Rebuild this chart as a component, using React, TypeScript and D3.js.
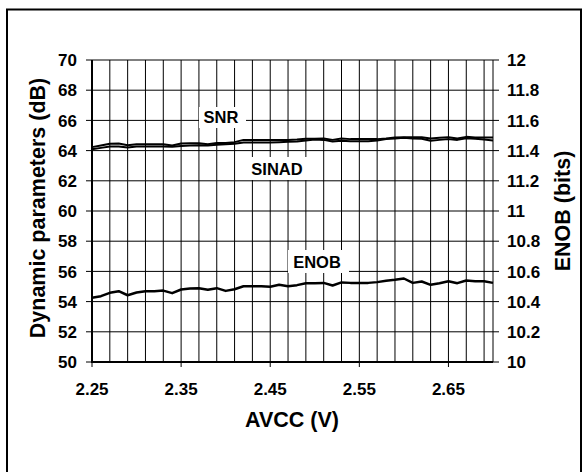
import React from "react";
import * as d3 from "d3";

const avcc: number[] = d3.range(46).map((i) => +(2.25 + i * 0.01).toFixed(2));

const snr: number[] = [
  64.23, 64.34, 64.45, 64.47, 64.36, 64.42, 64.42, 64.42, 64.42, 64.34,
  64.47, 64.49, 64.49, 64.42, 64.51, 64.51, 64.56, 64.71, 64.71, 64.71,
  64.71, 64.71, 64.71, 64.73, 64.78, 64.78, 64.8, 64.71, 64.8, 64.76,
  64.76, 64.76, 64.76, 64.8, 64.87, 64.89, 64.89, 64.89, 64.8, 64.85,
  64.89, 64.8, 64.91, 64.87, 64.87, 64.87,
];

const sinad: number[] = [
  64.09, 64.18, 64.27, 64.27, 64.2, 64.27, 64.27, 64.27, 64.27, 64.25,
  64.31, 64.34, 64.36, 64.34, 64.38, 64.42, 64.45, 64.54, 64.54, 64.54,
  64.54, 64.56, 64.58, 64.6, 64.67, 64.73, 64.71, 64.6, 64.65, 64.62,
  64.62, 64.62, 64.67, 64.76, 64.8, 64.85, 64.8, 64.78, 64.65, 64.71,
  64.76, 64.71, 64.82, 64.78, 64.73, 64.67,
];

const enob: number[] = [
  10.425, 10.436, 10.458, 10.469, 10.442, 10.46, 10.469, 10.469, 10.473, 10.456,
  10.48, 10.487, 10.489, 10.478, 10.489, 10.471, 10.482, 10.502, 10.502, 10.502,
  10.498, 10.511, 10.502, 10.509, 10.522, 10.522, 10.524, 10.507, 10.527, 10.524,
  10.524, 10.524, 10.529, 10.538, 10.544, 10.553, 10.524, 10.533, 10.511, 10.522,
  10.535, 10.522, 10.54, 10.535, 10.535, 10.524,
];

const xTickLabels: string[] = ["2.25", "2.35", "2.45", "2.55", "2.65"];
const leftTicks: number[] = [50, 52, 54, 56, 58, 60, 62, 64, 66, 68, 70];
const rightTicks: number[] = [10, 10.2, 10.4, 10.6, 10.8, 11, 11.2, 11.4, 11.6, 11.8, 12];
const rightTickLabels: string[] = ["10", "10.2", "10.4", "10.6", "10.8", "11", "11.2", "11.4", "11.6", "11.8", "12"];
const xGrid: number[] = d3.range(23).map((i) => +(2.25 + i * 0.02).toFixed(2)).concat([2.7]);

const W = 587;
const H = 472;
const L = 92, R = 493, T = 60, B = 362;
const FONT = "Liberation Sans, Arial, Helvetica, sans-serif";

export default function App() {
  const x = d3.scaleLinear().domain([2.25, 2.7]).range([L, R]);
  const yL = d3.scaleLinear().domain([50, 70]).range([B, T]);
  const yR = d3.scaleLinear().domain([10, 12]).range([B, T]);

  const lineL = d3.line<number>().x((_, i) => x(avcc[i])).y((d) => yL(d));
  const lineR = d3.line<number>().x((_, i) => x(avcc[i])).y((d) => yR(d));

  return (
    <svg width={W} height={H} style={{ position: "absolute", left: 0, top: 0, background: "#fff" }} fontFamily={FONT}>
      <rect x={0} y={0} width={W} height={H} fill="#fff" />
      <rect x={7} y={9.5} width={574} height={470} fill="none" stroke="#000" strokeWidth={2} />

      {/* grid */}
      {xGrid.map((v, i) => (
        <line key={"gx" + i} x1={x(v)} x2={x(v)} y1={T} y2={B} stroke="#000" strokeWidth={1} />
      ))}
      {leftTicks.map((v, i) => (
        <line key={"gy" + i} x1={L} x2={R} y1={yL(v)} y2={yL(v)} stroke="#000" strokeWidth={1} />
      ))}

      {/* left ticks & labels */}
      {leftTicks.map((v, i) => (
        <g key={"lt" + i}>
          <line x1={L - 6} x2={L} y1={yL(v)} y2={yL(v)} stroke="#000" strokeWidth={1} />
          <text x={77} y={yL(v)} dy="0.36em" textAnchor="end" fontSize={17} fontWeight="bold">{v}</text>
        </g>
      ))}

      {/* right ticks & labels */}
      {rightTicks.map((v, i) => (
        <g key={"rt" + i}>
          <line x1={R} x2={R + 6} y1={yR(v)} y2={yR(v)} stroke="#000" strokeWidth={1} />
          <text x={507} y={yR(v)} dy="0.36em" textAnchor="start" fontSize={17} fontWeight="bold">{rightTickLabels[i]}</text>
        </g>
      ))}

      {/* x ticks & labels */}
      {xTickLabels.map((s, i) => (
        <g key={"xt" + i}>
          <line x1={x(+s)} x2={x(+s)} y1={B} y2={B + 5} stroke="#000" strokeWidth={1} />
          <text x={x(+s)} y={395} textAnchor="middle" fontSize={17} fontWeight="bold">{s}</text>
        </g>
      ))}

      {/* axes */}
      <line x1={L} x2={L} y1={T} y2={B + 1} stroke="#000" strokeWidth={2} />
      <line x1={L - 1} x2={R} y1={B} y2={B} stroke="#000" strokeWidth={2} />

      {/* series */}
      <path d={lineL(sinad) || ""} fill="none" stroke="#000" strokeWidth={2} strokeLinejoin="round" />
      <path d={lineL(snr) || ""} fill="none" stroke="#000" strokeWidth={2} strokeLinejoin="round" />
      <path d={lineR(enob) || ""} fill="none" stroke="#000" strokeWidth={2.5} strokeLinejoin="round" />

      {/* series labels */}
      <rect x={199} y={107} width={47} height={21} fill="#fff" />
      <text x={221} y={117.5} dy="0.36em" textAnchor="middle" fontSize={16.5} fontWeight="bold">SNR</text>
      <rect x={246} y={157} width={63} height={23} fill="#fff" />
      <text x={277} y={169} dy="0.36em" textAnchor="middle" fontSize={16.5} fontWeight="bold">SINAD</text>
      <rect x={288} y={250} width={61} height={23} fill="#fff" />
      <text x={317} y={262} dy="0.36em" textAnchor="middle" fontSize={16.5} fontWeight="bold">ENOB</text>

      {/* axis titles */}
      <text transform={`translate(45,${(T + B) / 2 - 3}) rotate(-90)`} textAnchor="middle" fontSize={21.5} fontWeight="bold">Dynamic parameters (dB)</text>
      <text transform={`translate(570,${(T + B) / 2}) rotate(-90)`} textAnchor="middle" fontSize={21.5} fontWeight="bold">ENOB (bits)</text>
      <text x={292} y={427} textAnchor="middle" fontSize={21.5} fontWeight="bold">AVCC (V)</text>
    </svg>
  );
}
